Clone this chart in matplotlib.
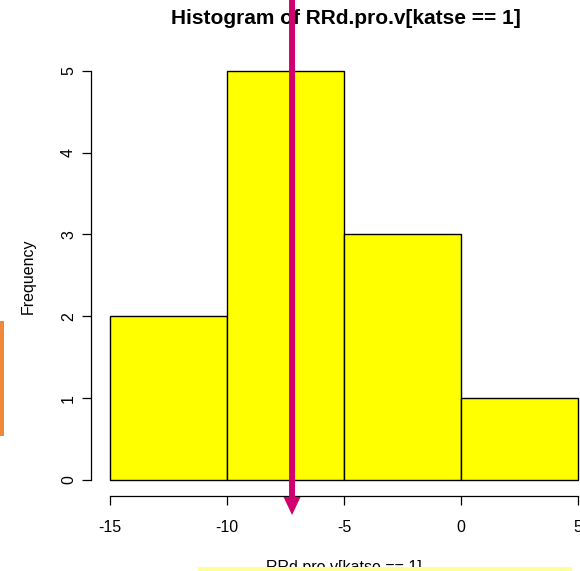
import matplotlib
matplotlib.use("Agg")
import matplotlib.pyplot as plt
from matplotlib.patches import Rectangle, Polygon
from matplotlib.transforms import blended_transform_factory

plt.rcParams['font.family'] = ['Liberation Sans', 'DejaVu Sans']

bin_edges = [-15, -10, -5, 0, 5]
counts = [2, 5, 3, 1]
x_ticks = [-15, -10, -5, 0, 5]
y_ticks = [0, 1, 2, 3, 4, 5]
title = "Histogram of RRd.pro.v[katse == 1]"
xlabel = "RRd.pro.v[katse == 1]"
ylabel = "Frequency"
arrow_x = -7.22

W, H = 580, 571
fig = plt.figure(figsize=(W / 100, H / 100), dpi=100)

# axes box in pixels (R-style 4% padding)
x0, x1 = 91.3, 596.7
y_top, y_bot = 54.4, 496.4
ax = fig.add_axes([x0 / W, 1 - y_bot / H, (x1 - x0) / W, (y_bot - y_top) / H])
ax.set_xlim(-15.8, 5.8)
ax.set_ylim(-0.2, 5.2)

lefts = bin_edges[:-1]
widths = [b - a for a, b in zip(bin_edges[:-1], bin_edges[1:])]
ax.bar(lefts, counts, width=widths, align='edge', color='#FFFF00',
       edgecolor='black', linewidth=1.0)

for s in ['top', 'right']:
    ax.spines[s].set_visible(False)
ax.spines['bottom'].set_bounds(x_ticks[0], x_ticks[-1])
ax.spines['left'].set_bounds(y_ticks[0], y_ticks[-1])
for s in ['bottom', 'left']:
    ax.spines[s].set_linewidth(0.9)
    ax.spines[s].set_clip_on(False)

fs = 11.5
ax.set_xticks(x_ticks)
ax.set_xticklabels([str(t) for t in x_ticks])
ax.set_yticks(y_ticks)
ax.set_yticklabels([str(t) for t in y_ticks], rotation=90, va='center')
ax.tick_params(axis='both', length=6.5, width=0.9, labelsize=fs)
ax.tick_params(axis='x', pad=10.5)
ax.tick_params(axis='y', pad=4.5)
for lbl in ax.get_xticklabels():
    lbl.set_clip_on(False)

fig.text(346 / W, 1 - 18 / H, title, ha='center', va='center',
         fontsize=15, fontweight='bold')
fig.text(344 / W, 1 - 572 / H, xlabel, ha='center', va='baseline', fontsize=fs)
fig.text(28 / W, 1 - 276 / H, ylabel, ha='center', va='center',
         fontsize=fs, rotation=90)

# overlays
fig.add_artist(Rectangle((0, 1 - 436 / H), 4 / W, 115 / H,
                         transform=fig.transFigure, facecolor='#F0883A',
                         edgecolor='none', zorder=10))
fig.add_artist(Rectangle((198 / W, 1 - 571 / H), (572 - 198) / W, 4 / H,
                         transform=fig.transFigure, facecolor='#FFFF99',
                         edgecolor='none', zorder=10))

tr = blended_transform_factory(ax.transData, fig.transFigure)
px = 1 / 23.4  # data units per pixel in x
sw = 3 * px
hw = 8.5 * px
tip = 1 - 515 / H
hl = 18 / H
arrow_pts = [(arrow_x - sw, 1.0), (arrow_x + sw, 1.0), (arrow_x + sw, tip + hl),
             (arrow_x + hw, tip + hl), (arrow_x, tip), (arrow_x - hw, tip + hl),
             (arrow_x - sw, tip + hl)]
fig.add_artist(Polygon(arrow_pts, closed=True, transform=tr,
                       facecolor='#D1006F', edgecolor='none', zorder=11))

fig.savefig("out.png", dpi=100)
